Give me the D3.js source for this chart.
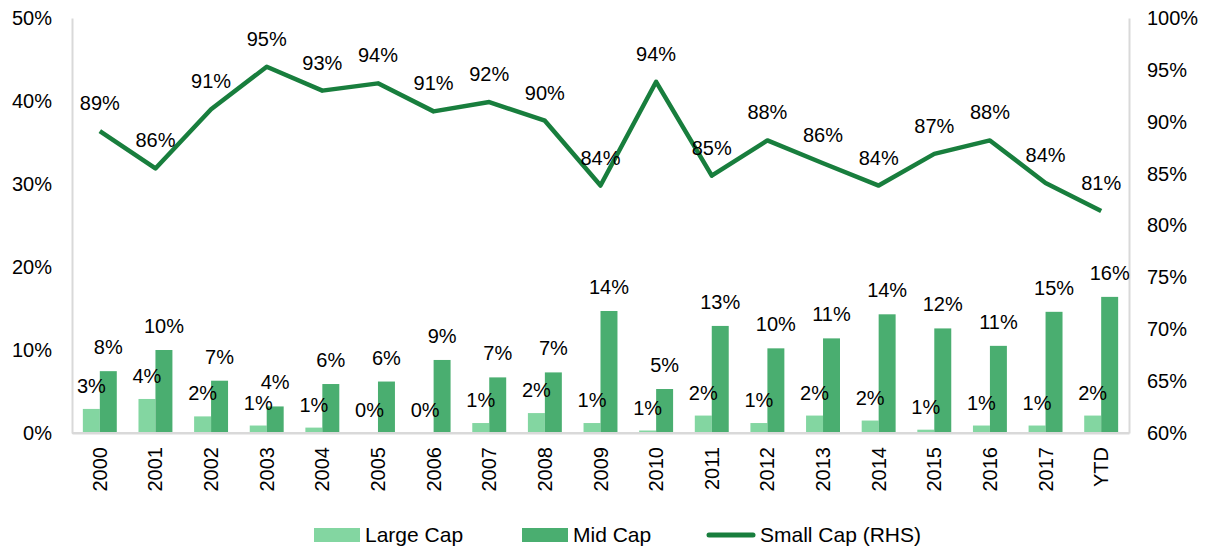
<!DOCTYPE html>
<html>
<head>
<meta charset="utf-8">
<script src="https://cdn.jsdelivr.net/npm/d3@7"></script>
<style>
  body { margin: 0; background: #fff; }
  text { font-family: "Liberation Sans", Arial, sans-serif; fill: #000; }
</style>
</head>
<body>
<div id="chart"></div>
<script>
// categories
const years = ["2000", "2001", "2002", "2003", "2004", "2005", "2006", "2007", "2008", "2009",
  "2010", "2011", "2012", "2013", "2014", "2015", "2016", "2017", "YTD"]

// series values (fraction)
const largeCap = [0.029, 0.041, 0.020, 0.009, 0.0065, 0, 0, 0.012, 0.024, 0.012,
  0.003, 0.021, 0.012, 0.021, 0.015, 0.004, 0.009, 0.009, 0.021]
const midCap = [0.0745, 0.100, 0.063, 0.032, 0.059, 0.062, 0.088, 0.067, 0.073, 0.147,
  0.053, 0.129, 0.102, 0.114, 0.143, 0.126, 0.105, 0.146, 0.164]
const smallCap = [0.891, 0.855, 0.912, 0.953, 0.930, 0.937, 0.910, 0.919, 0.901, 0.8385,
  0.9385, 0.848, 0.882, 0.860, 0.8385, 0.869, 0.882, 0.841, 0.814]

// data labels as printed on the chart
const largeLabels = ["3%", "4%", "2%", "1%", "1%", "0%", "0%", "1%", "2%", "1%",
  "1%", "2%", "1%", "2%", "2%", "1%", "1%", "1%", "2%"]
const midLabels = ["8%", "10%", "7%", "4%", "6%", "6%", "9%", "7%", "7%", "14%",
  "5%", "13%", "10%", "11%", "14%", "12%", "11%", "15%", "16%"]
const smallLabels = ["89%", "86%", "91%", "95%", "93%", "94%", "91%", "92%", "90%", "84%",
  "94%", "85%", "88%", "86%", "84%", "87%", "88%", "84%", "81%"]

// axis ticks
const leftTicks = [0, 0.1, 0.2, 0.3, 0.4, 0.5]
const rightTicks = [0.6, 0.65, 0.7, 0.75, 0.8, 0.85, 0.9, 0.95, 1.0]

const width = 1210
const height = 552
const margin = { top: 18, right: 81, bottom: 119, left: 72 }
const fontSize = 20

const colLarge = "#83d6a1"
const colMid = "#4aae70"
const colSmall = "#187e3d"
const axisCol = "#d9d9d9"

const svg = d3.select("#chart").append("svg")
  .attr("width", width)
  .attr("height", height)

const x = d3.scaleBand()
  .domain(years)
  .range([margin.left, width - margin.right])
  .padding(0)

const yL = d3.scaleLinear()
  .domain([0, 0.5])
  .range([height - margin.bottom, margin.top])

const yR = d3.scaleLinear()
  .domain([0.6, 1.0])
  .range([height - margin.bottom, margin.top])

const barW = x.bandwidth() * 0.305
const pct = d3.format(".0%")

// axes
const leftAxis = svg.append("g")
  .attr("transform", `translate(${margin.left},0)`)
  .call(d3.axisLeft(yL).tickValues(leftTicks).tickFormat(pct).tickSize(0).tickPadding(20))
const rightAxis = svg.append("g")
  .attr("transform", `translate(${width - margin.right},0)`)
  .call(d3.axisRight(yR).tickValues(rightTicks).tickFormat(pct).tickSize(0).tickPadding(18))
const bottomAxis = svg.append("g")
  .attr("transform", `translate(0,${height - margin.bottom})`)
  .call(d3.axisBottom(x).tickSize(0).tickSizeOuter(0))

;[leftAxis, rightAxis, bottomAxis].forEach(g => {
  g.select(".domain").attr("stroke", axisCol).attr("stroke-width", 2)
  g.selectAll("text").attr("font-size", fontSize).attr("font-family", "Liberation Sans, Arial, sans-serif")
})

bottomAxis.selectAll("text")
  .attr("transform", "rotate(-90)")
  .attr("text-anchor", "end")
  .attr("x", -14)
  .attr("y", 0)
  .attr("dy", "0.35em")

// bars
const bars = svg.append("g")

bars.selectAll(".large")
  .data(years)
  .join("rect")
  .attr("class", "large")
  .attr("x", d => x(d) + x.bandwidth() / 2 - barW)
  .attr("y", (d, i) => yL(largeCap[i]))
  .attr("width", barW)
  .attr("height", (d, i) => yL(0) - yL(largeCap[i]))
  .attr("fill", colLarge)

bars.selectAll(".mid")
  .data(years)
  .join("rect")
  .attr("class", "mid")
  .attr("x", d => x(d) + x.bandwidth() / 2)
  .attr("y", (d, i) => yL(midCap[i]))
  .attr("width", barW)
  .attr("height", (d, i) => yL(0) - yL(midCap[i]))
  .attr("fill", colMid)

// re-draw the baseline on top of bars
svg.append("line")
  .attr("x1", margin.left).attr("x2", width - margin.right)
  .attr("y1", yL(0)).attr("y2", yL(0))
  .attr("stroke", axisCol).attr("stroke-width", 2)

// line
const line = d3.line()
  .x((d, i) => x(years[i]) + x.bandwidth() / 2)
  .y(d => yR(d))

svg.append("path")
  .datum(smallCap)
  .attr("d", line)
  .attr("fill", "none")
  .attr("stroke", colSmall)
  .attr("stroke-width", 4.5)
  .attr("stroke-linejoin", "round")

// data labels
const labels = svg.append("g")
  .attr("font-size", fontSize)
  .attr("text-anchor", "middle")

labels.selectAll(".lbl-large")
  .data(years)
  .join("text")
  .attr("x", d => x(d) + x.bandwidth() / 2 - barW / 2)
  .attr("y", (d, i) => yL(largeCap[i]) - 16)
  .text((d, i) => largeLabels[i])

labels.selectAll(".lbl-mid")
  .data(years)
  .join("text")
  .attr("x", d => x(d) + x.bandwidth() / 2 + barW / 2)
  .attr("y", (d, i) => yL(midCap[i]) - 17)
  .text((d, i) => midLabels[i])

labels.selectAll(".lbl-small")
  .data(years)
  .join("text")
  .attr("x", d => x(d) + x.bandwidth() / 2)
  .attr("y", (d, i) => yR(smallCap[i]) - 21)
  .text((d, i) => smallLabels[i])

// legend
const legend = svg.append("g")
  .attr("font-size", 21)

const legendItems = [
  { name: "Large Cap", type: "rect", color: colLarge, x: 314 },
  { name: "Mid Cap", type: "rect", color: colMid, x: 522 },
  { name: "Small Cap (RHS)", type: "line", color: colSmall, x: 707 }
]

const ly = 535
legendItems.forEach(item => {
  if (item.type === "rect") {
    legend.append("rect")
      .attr("x", item.x).attr("y", ly - 7)
      .attr("width", 46).attr("height", 14)
      .attr("fill", item.color)
  } else {
    legend.append("line")
      .attr("x1", item.x + 2).attr("x2", item.x + 46)
      .attr("y1", ly).attr("y2", ly)
      .attr("stroke", item.color)
      .attr("stroke-width", 5)
      .attr("stroke-linecap", "round")
  }
  legend.append("text")
    .attr("x", item.x + (item.type === "rect" ? 51 : 53))
    .attr("y", ly)
    .attr("dy", "0.35em")
    .text(item.name)
})
</script>
</body>
</html>
